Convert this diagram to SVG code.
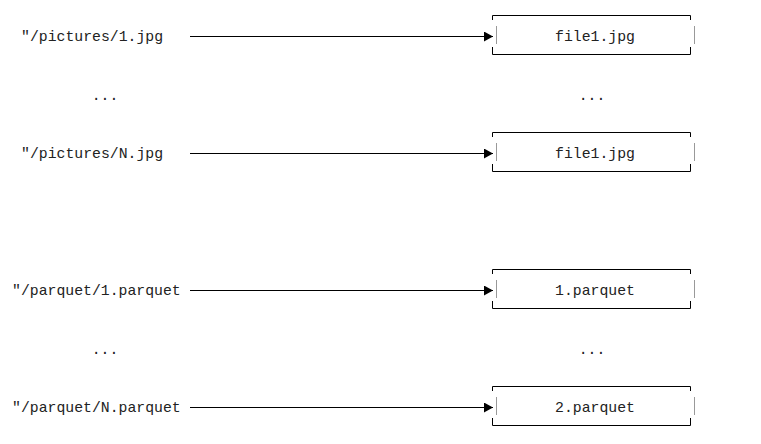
<svg xmlns="http://www.w3.org/2000/svg" width="761" height="444" viewBox="0 0 761 444">
<defs>
<marker id="ah" markerWidth="10" markerHeight="10" refX="9" refY="5" orient="auto" markerUnits="userSpaceOnUse">
<path d="M0,0 L9,5 L0,10 Z" fill="#000"/>
</marker>
<g id="box">
<path d="M492.5,20 V15.5 H690.5 V20 M492.5,47 V54.5 H690.5 V47" fill="none" stroke="#000" stroke-width="1"/>
<path d="M496.5,26 V44 M694.5,26 V44" fill="none" stroke="#999" stroke-width="1"/>
</g>
</defs>
<style>
text{font-family:"Liberation Mono","Courier New",monospace;font-size:14.8px;fill:#222}
.c{text-anchor:middle}
.line{stroke:#000;stroke-width:1;fill:none;marker-end:url(#ah)}
</style>
<rect width="761" height="444" fill="#fff"/>
<g id="src1"><text x="21" y="41">"/pictures/1.jpg</text></g>
<g id="srcdots1"><text class="c" x="105" y="100">...</text></g>
<g id="src2"><text x="21" y="158">"/pictures/N.jpg</text></g>
<g id="src3"><text x="12" y="295">"/parquet/1.parquet</text></g>
<g id="srcdots2"><text class="c" x="105" y="354">...</text></g>
<g id="src4"><text x="12" y="412">"/parquet/N.parquet</text></g>
<g id="dst1"><use href="#box"/><text class="c" x="595" y="41">file1.jpg</text></g>
<g id="dstdots1"><text class="c" x="592" y="100">...</text></g>
<g id="dst2"><use href="#box" y="117"/><text class="c" x="595" y="158">file1.jpg</text></g>
<g id="dst3"><use href="#box" y="254"/><text class="c" x="595" y="295">1.parquet</text></g>
<g id="dstdots2"><text class="c" x="592" y="354">...</text></g>
<g id="dst4"><use href="#box" y="371"/><text class="c" x="595" y="412">2.parquet</text></g>
<g id="connectors">
<line class="line" x1="190" y1="36.5" x2="493" y2="36.5"/>
<line class="line" x1="190" y1="153.5" x2="493" y2="153.5"/>
<line class="line" x1="190" y1="290.5" x2="493" y2="290.5"/>
<line class="line" x1="190" y1="407.5" x2="493" y2="407.5"/>
</g>
</svg>
